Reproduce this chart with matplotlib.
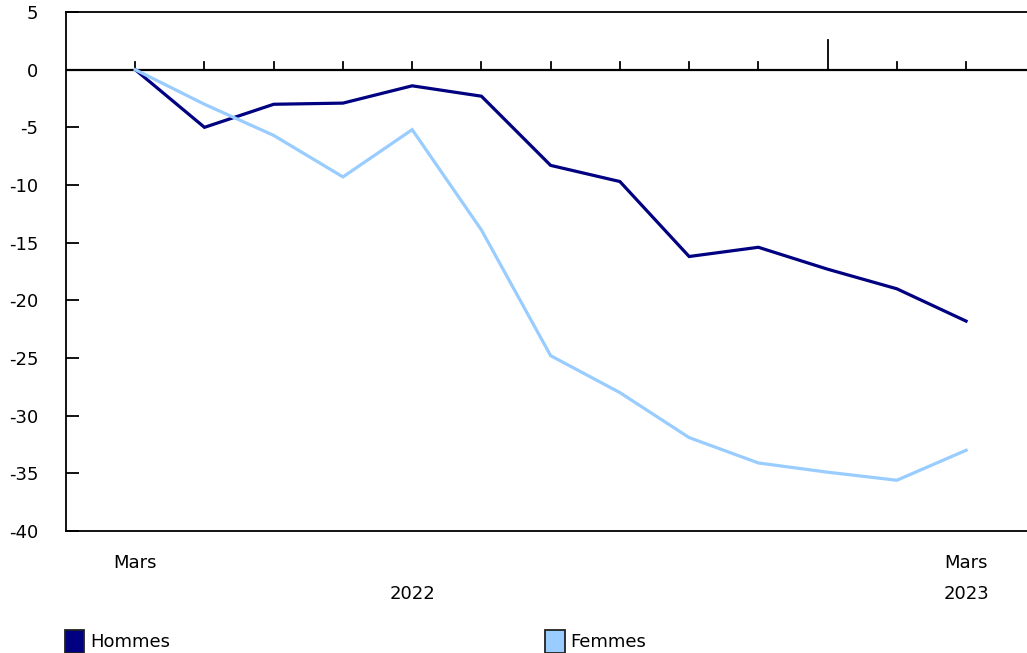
import matplotlib
matplotlib.use('Agg')
import matplotlib.pyplot as plt
from matplotlib.patches import Patch

months = ['Mars', 'Avr', 'Mai', 'Juin', 'Juil', 'Août', 'Sept', 'Oct',
          'Nov', 'Déc', 'Janv', 'Févr', 'Mars']
hommes = [0, -5.0, -3.0, -2.9, -1.4, -2.3, -8.3, -9.7, -16.2, -15.4, -17.3, -19.0, -21.8]
femmes = [0, -3.0, -5.7, -9.3, -5.2, -13.9, -24.8, -28.0, -31.9, -34.1, -34.9, -35.6, -33.0]
year_labels = {4: '2022', 12: '2023'}
year_start = 10

c_h = '#000080'
c_f = '#99ccff'

plt.rcParams['font.family'] = ['Verdana', 'DejaVu Sans']
plt.rcParams['axes.unicode_minus'] = False
fig = plt.figure(figsize=(10.27, 6.53), dpi=100)
ax = fig.add_axes([66 / 1027, 1 - 531 / 653, 1 - 66 / 1027, (531 - 12) / 653])

x = list(range(len(months)))
ax.plot(x, hommes, color=c_h, lw=2.3, solid_joinstyle='miter', zorder=3)
ax.plot(x, femmes, color=c_f, lw=2.3, solid_joinstyle='miter', zorder=3)

ax.set_xlim(-1, 12.88)
ax.set_ylim(-40, 5)
ax.set_yticks(range(-40, 6, 5))
ax.tick_params(axis='y', direction='in', length=9, width=1.3, labelsize=13, pad=20)
ax.set_xticks([])
for s in ['left', 'top', 'bottom']:
    ax.spines[s].set_linewidth(1.3)
ax.spines['right'].set_visible(False)

# zero line with month ticks pointing up
ax.axhline(0, color='black', lw=1.6, zorder=2)
for i in x:
    h = 2.6 if i == year_start else 0.7
    ax.plot([i, i], [0, h], color='black', lw=1.3, zorder=2)

trans = ax.get_xaxis_transform()
for i in (0, 12):
    ax.text(i, -0.062, months[i], transform=trans, ha='center', va='center', fontsize=13)
for i, lab in year_labels.items():
    ax.text(i, -0.122, lab, transform=trans, ha='center', va='center', fontsize=13)

handles = [Patch(facecolor=c_h, edgecolor='#222222', lw=1.3, label='Hommes'),
           Patch(facecolor=c_f, edgecolor='#222222', lw=1.3, label='Femmes')]
fig.legend(handles=handles, loc='lower left', bbox_to_anchor=(0.047, -0.025), ncol=2,
           frameon=False, fontsize=13, handlelength=1.1, handleheight=1.6,
           handletextpad=0.3, columnspacing=20.8)

fig.savefig('out.png', dpi=100)
